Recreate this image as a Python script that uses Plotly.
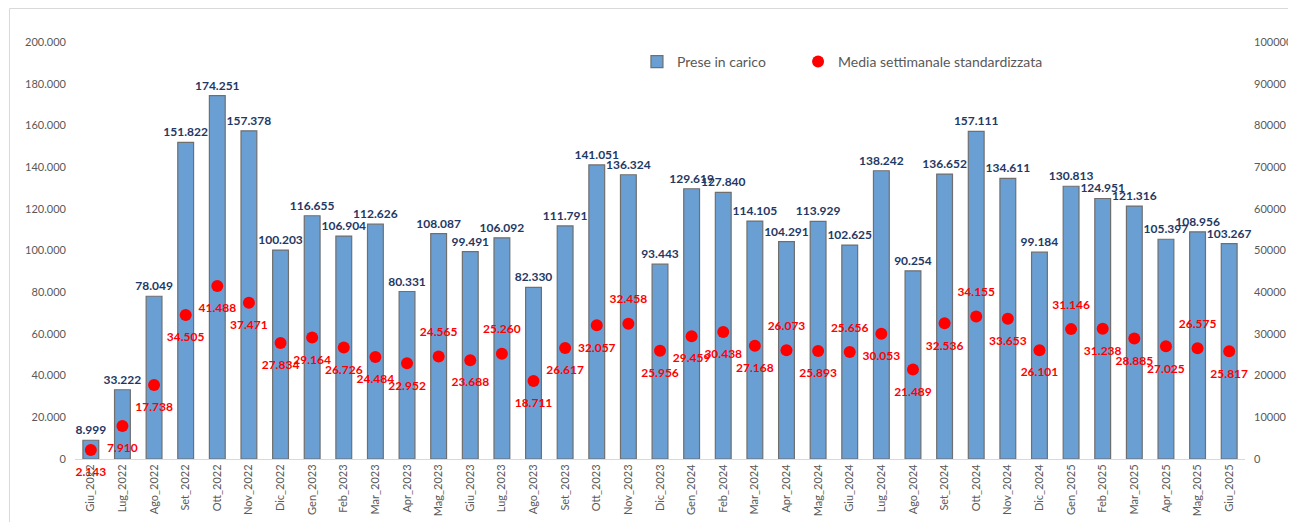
import plotly.graph_objects as go

categories = ["Giu_2022", "Lug_2022", "Ago_2022", "Set_2022", "Ott_2022", "Nov_2022", "Dic_2022",
              "Gen_2023", "Feb_2023", "Mar_2023", "Apr_2023", "Mag_2023", "Giu_2023", "Lug_2023",
              "Ago_2023", "Set_2023", "Ott_2023", "Nov_2023", "Dic_2023", "Gen_2024", "Feb_2024",
              "Mar_2024", "Apr_2024", "Mag_2024", "Giu_2024", "Lug_2024", "Ago_2024", "Set_2024",
              "Ott_2024", "Nov_2024", "Dic_2024", "Gen_2025", "Feb_2025", "Mar_2025", "Apr_2025",
              "Mag_2025", "Giu_2025"]

prese_in_carico = [8999, 33222, 78049, 151822, 174251, 157378, 100203,
                   116655, 106904, 112626, 80331, 108087, 99491, 106092,
                   82330, 111791, 141051, 136324, 93443, 129619, 127840,
                   114105, 104291, 113929, 102625, 138242, 90254, 136652,
                   157111, 134611, 99184, 130813, 124951, 121316, 105397,
                   108956, 103267]

media_settimanale = [2143, 7910, 17738, 34505, 41488, 37471, 27834,
                     29164, 26726, 24484, 22952, 24565, 23688, 25260,
                     18711, 26617, 32057, 32458, 25956, 29459, 30438,
                     27168, 26073, 25893, 25656, 30053, 21489, 32536,
                     34155, 33653, 26101, 31146, 31238, 28885, 27025,
                     26575, 25817]

# label placement for the red dots (above / below), as in the reference
above = {"Mag_2023", "Lug_2023", "Nov_2023", "Apr_2024", "Giu_2024", "Ott_2024", "Gen_2025", "Mag_2025"}
dot_text_pos = ["top center" if c in above else "bottom center" for c in categories]

FONT = "Lato"
GREY = "#595959"

fig = go.Figure()

fig.add_trace(go.Bar(
    x=categories, y=prese_in_carico, name="Prese in carico",
    marker=dict(color="#6A9FD4", line=dict(color="#6f6f6f", width=1.2)),
    width=0.5,
    texttemplate="<b>%{y:,}</b>", textposition="outside",
    textfont=dict(family=FONT, size=12, color="#1F3864"),
    constraintext="none", cliponaxis=False,
    yaxis="y", legend="legend",
))

fig.add_trace(go.Scatter(
    x=categories, y=media_settimanale, name="Media settimanale standardizzata",
    mode="markers",
    marker=dict(color="#FF0000", size=12),
    cliponaxis=False,
    yaxis="y2", legend="legend2",
))

# labels for the red dots, pushed away from the dots via a transparent larger marker
fig.add_trace(go.Scatter(
    x=categories, y=media_settimanale, name="labels",
    mode="markers+text",
    marker=dict(color="rgba(0,0,0,0)", size=26),
    texttemplate="<b>%{y:,}</b>", textposition=dot_text_pos,
    textfont=dict(family=FONT, size=12, color="#FF0000"),
    cliponaxis=False, showlegend=False, hoverinfo="skip",
    yaxis="y2",
))

fig.add_shape(type="rect", xref="paper", yref="paper",
              x0=-0.056, x1=1.06, y0=-0.3, y1=1.0803,
              line=dict(color="#D9D9D9", width=1), fillcolor="rgba(0,0,0,0)", layer="below")

leg_common = dict(orientation="h", y=0.952, xanchor="left", yanchor="middle",
                  font=dict(family=FONT, size=14, color=GREY), bgcolor="rgba(0,0,0,0)",
                  itemwidth=30)

fig.update_layout(
    width=1296, height=522,
    margin=dict(l=67, r=59, t=34, b=71),
    paper_bgcolor="white", plot_bgcolor="white",
    separators=",.",
    font=dict(family=FONT, size=11, color=GREY),
    bargap=0.5,
    showlegend=True,
    legend=dict(x=0.4803, **leg_common),
    legend2=dict(x=0.618, **leg_common),
    xaxis=dict(type="category", range=[-0.5, len(categories) - 0.5], tickangle=-90,
               showgrid=False, showline=True,
               linecolor="#D9D9D9", linewidth=1, ticks="",
               tickfont=dict(family=FONT, size=11, color=GREY), automargin=False),
    yaxis=dict(range=[0, 200000], dtick=20000, tickformat=",", showgrid=False,
               zeroline=False, ticks="", ticklabelstandoff=8,
               tickfont=dict(family=FONT, size=11, color=GREY), automargin=False),
    yaxis2=dict(range=[0, 100000], dtick=10000, tickformat="d", overlaying="y",
                side="right", showgrid=False, zeroline=False, ticks="",
                ticklabelstandoff=8,
                tickfont=dict(family=FONT, size=11, color=GREY), automargin=False),
)

fig.write_html("out.html")
